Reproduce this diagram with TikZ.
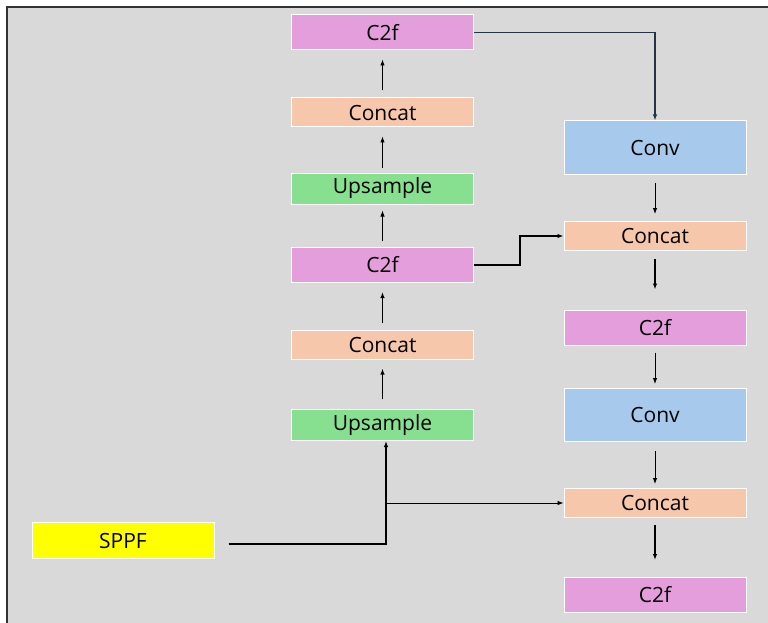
\documentclass[tikz,border=0pt]{standalone}
\usepackage{fontspec}
\setmainfont{Open Sans}
\usetikzlibrary{arrows.meta}

\definecolor{bggray}{HTML}{D9D9D9}
\definecolor{cpink}{HTML}{E59EDC}
\definecolor{cpeach}{HTML}{F7C7AC}
\definecolor{cgreen}{HTML}{86E08F}
\definecolor{cblue}{HTML}{A6C9EC}
\definecolor{cyellow}{HTML}{FFFF00}
\definecolor{cnavy}{HTML}{223548}

\tikzset{
	block/.style={draw=white, line width=1pt, minimum width=182pt, inner sep=0pt, font=\fontsize{21}{24}\selectfont},
	c2fbox/.style={block, fill=cpink, minimum height=35pt},
	catbox/.style={block, fill=cpeach, minimum height=29pt},
	upbox/.style={block, fill=cgreen, minimum height=31pt},
	convbox/.style={block, fill=cblue, minimum height=53pt},
	sppfbox/.style={block, fill=cyellow, minimum height=36pt},
	flow/.style={-{Latex[length=6pt,width=4.5pt]}, line width=0.9pt},
}

\begin{document}
\begin{tikzpicture}[x=1pt,y=-1pt]
	\useasboundingbox (0,0) rectangle (768,623);
	\fill[bggray] (7,7) rectangle (768,623);
	\draw[line width=1.6pt, black!80] (7,623) -- (7,7) -- (768,7);

	% left column
	\node[c2fbox] (c2fA) at (382.5,32.5) {C2f};
	\node[catbox] (catA) at (382.5,112.5) {Concat};
	\node[upbox] (upA) at (382.5,188.5) {Upsample};
	\node[c2fbox] (c2fB) at (382.5,265) {C2f};
	\node[catbox] (catB) at (382.5,344.5) {Concat};
	\node[upbox] (upB) at (382.5,425) {Upsample};
	\node[sppfbox] (sppf) at (123,540.5) {SPPF};

	% right column
	\node[convbox] (convA) at (655,147.5) {Conv};
	\node[catbox] (catC) at (655,236) {Concat};
	\node[c2fbox] (c2fC) at (655,327.5) {C2f};
	\node[convbox] (convB) at (655,415) {Conv};
	\node[catbox] (catD) at (655,503) {Concat};
	\node[c2fbox] (c2fD) at (655,595) {C2f};

	\draw[flow, shorten <=7pt, shorten >=9pt] (catA) -- (c2fA);
	\draw[flow, shorten <=5pt, shorten >=9pt] (upA) -- (catA);
	\draw[flow, shorten <=6pt, shorten >=6pt] (c2fB) -- (upA);
	\draw[flow, line width=1.2pt, shorten <=7pt, shorten >=9pt] (catB) -- (c2fB);
	\draw[flow, line width=1.2pt, shorten <=10pt, shorten >=9pt] (upB) -- (catB);

	\draw[flow, shorten <=8pt, shorten >=7pt] (convA) -- (catC);
	\draw[flow, line width=1.4pt, shorten <=8pt, shorten >=20pt] (catC) -- (c2fC);
	\draw[flow, shorten <=7pt, shorten >=4pt] (c2fC) -- (convB);
	\draw[flow, shorten <=9pt, shorten >=4pt] (convB) -- (catD);
	\draw[flow, line width=1.4pt, shorten <=7pt, shorten >=17pt] (catD) -- (c2fD);

	\draw[flow, line width=1.2pt, cnavy] (c2fA.east) -| (convA.north);
	\draw[flow, line width=1.6pt] (c2fB.east) -- ++(46,0) |- (catC.west);

	\coordinate (split) at ([xshift=3.5pt]upB.south |- catD.west);
	\draw[flow, line width=1.4pt] ([xshift=14pt,yshift=-3.5pt]sppf.east) -| ([xshift=3.5pt]upB.south);
	\draw[flow] (split) -- (catD.west);
	\end{tikzpicture}
\end{document}
